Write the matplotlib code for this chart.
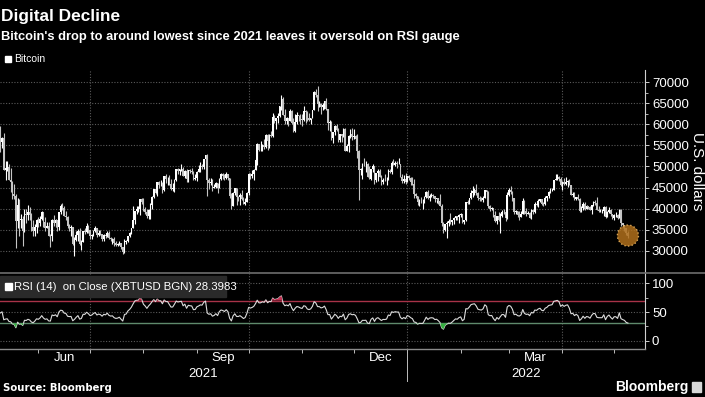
import numpy as np
import pandas as pd
import matplotlib
matplotlib.use('Agg')
import matplotlib.pyplot as plt
import matplotlib.dates as mdates
from matplotlib.patches import Rectangle

# daily bitcoin candles in $ thousands, 10 May 2021 - 9 May 2022
close = [
    55.9, 56.7, 49.2, 49.7, 49.9, 46.8, 46.4, 43.5, 42.9, 37.0, 40.8, 37.3, 37.5, 34.8, 38.7, 38.4, 39.3, 38.4, 35.7, 34.6, 35.7, 37.3,  # May
    36.7, 37.6, 39.2, 36.9, 35.5, 35.8, 33.6, 33.4, 37.3, 36.7, 37.3, 35.6, 39.1, 40.5, 40.2, 38.3, 38.1, 35.8, 35.5, 35.6, 31.7, 32.5, 33.7, 34.7, 31.6, 32.0, 34.6, 34.5, 35.9, 35.0,  # Jun
    33.5, 33.8, 34.7, 35.3, 33.7, 34.2, 33.9, 32.9, 33.8, 33.5, 34.3, 33.1, 32.7, 32.8, 31.8, 31.4, 31.5, 31.8, 30.8, 29.8, 32.1, 32.3, 33.6, 34.3, 35.4, 37.3, 39.4, 40.0, 40.0, 42.2, 41.6,  # Jul
    39.9, 39.2, 38.2, 39.7, 40.9, 42.8, 44.6, 43.8, 46.3, 45.6, 45.6, 44.4, 47.8, 47.1, 47.1, 45.9, 44.7, 44.8, 46.7, 49.3, 48.9, 49.3, 49.5, 47.7, 48.9, 47.0, 49.1, 48.9, 48.8, 47.1, 47.2,  # Aug
    48.8, 49.3, 50.0, 49.9, 51.8, 52.7, 46.9, 46.1, 46.4, 44.8, 45.2, 46.1, 44.9, 47.1, 48.1, 47.8, 47.3, 48.3, 47.3, 43.0, 40.7, 43.6, 44.9, 42.8, 42.7, 43.2, 42.2, 41.0, 41.5, 43.8,  # Sep
    48.1, 47.7, 48.2, 49.1, 51.5, 55.3, 53.8, 53.9, 55.0, 54.7, 57.5, 56.0, 57.4, 57.3, 61.7, 60.9, 61.5, 62.0, 64.3, 66.0, 62.2, 60.7, 61.4, 60.9, 63.1, 60.4, 58.5, 60.6, 62.2, 61.9, 61.3,  # Oct
    61.0, 63.2, 62.9, 61.4, 61.0, 61.5, 63.3, 67.6, 66.9, 64.9, 64.9, 64.2, 64.5, 65.5, 63.6, 60.4, 60.5, 56.8, 58.1, 59.7, 58.7, 56.3, 57.6, 57.2, 58.8, 53.7, 54.8, 57.3, 57.8, 57.0,  # Nov
    57.2, 56.5, 53.6, 49.2, 49.4, 50.6, 50.5, 50.6, 47.6, 47.1, 49.3, 50.1, 46.7, 48.4, 48.9, 47.6, 46.2, 46.8, 46.7, 46.9, 49.0, 48.6, 50.8, 50.4, 50.8, 50.6, 50.6, 47.6, 46.5, 47.1, 46.3,  # Dec
    47.7, 47.3, 46.4, 45.8, 43.4, 43.1, 41.6, 41.9, 41.8, 41.8, 42.7, 43.9, 42.6, 43.1, 43.2, 43.1, 42.3, 42.4, 41.7, 40.7, 36.5, 35.0, 36.3, 36.7, 37.0, 36.8, 37.2, 37.7, 38.2, 38.0, 38.5,  # Jan
    38.7, 36.9, 37.3, 41.5, 41.4, 42.4, 43.8, 44.1, 44.3, 43.6, 42.4, 42.2, 42.1, 42.6, 44.5, 44.0, 40.5, 40.0, 40.1, 38.4, 37.1, 38.3, 37.3, 38.3, 39.2, 39.1, 37.7, 43.2,  # Feb
    44.4, 44.0, 42.5, 39.1, 39.4, 38.4, 38.1, 38.7, 41.9, 39.4, 38.7, 38.9, 37.8, 39.7, 39.3, 41.1, 40.9, 41.8, 42.2, 41.2, 41.0, 42.4, 42.9, 44.0, 44.3, 44.5, 46.8, 47.1, 47.5, 47.1, 45.5,  # Mar
    46.3, 45.8, 46.4, 46.6, 45.5, 43.2, 43.4, 42.3, 42.8, 42.2, 39.5, 40.1, 41.1, 39.9, 40.6, 40.4, 39.7, 40.8, 41.5, 41.4, 39.7, 39.5, 39.5, 39.5, 40.4, 38.1, 39.2, 39.7, 38.6, 37.7,  # Apr
    38.5, 38.5, 37.7, 39.7, 36.6, 36.0, 35.5, 34.1, 33.6,  # May
]
high = [
    59.5, 56.9, 58.0, 51.3, 51.4, 50.6, 49.7, 46.6, 45.8, 43.5, 42.5, 42.2, 38.8, 38.3, 39.8, 39.8, 40.8, 40.3, 38.9, 37.2, 36.4, 37.5,
    37.9, 38.2, 39.4, 39.3, 37.9, 36.8, 36.8, 34.0, 37.5, 38.4, 37.6, 37.4, 39.3, 41.0, 41.3, 40.5, 39.5, 38.2, 36.4, 36.1, 35.7, 33.3, 34.8, 35.2, 35.5, 32.6, 34.6, 35.3, 36.5, 36.0,
    35.0, 33.9, 34.9, 35.9, 35.3, 35.0, 35.0, 33.9, 34.0, 34.2, 34.6, 34.6, 33.3, 33.1, 33.2, 32.2, 31.9, 32.3, 31.8, 31.0, 32.8, 32.6, 33.6, 34.5, 35.4, 40.5, 39.5, 40.6, 40.6, 42.2, 42.4,
    42.6, 40.4, 39.8, 39.9, 41.3, 43.0, 44.7, 45.3, 46.4, 46.6, 46.7, 46.2, 47.8, 48.1, 47.4, 48.0, 47.1, 46.0, 47.0, 49.3, 49.7, 49.5, 50.5, 49.8, 49.1, 49.3, 49.2, 49.3, 49.6, 48.9, 48.2,
    49.0, 50.4, 51.0, 50.5, 51.8, 52.8, 52.9, 47.3, 47.3, 47.0, 45.9, 46.3, 46.1, 47.2, 48.4, 48.4, 48.1, 48.7, 48.3, 47.3, 43.6, 44.0, 44.9, 45.0, 42.9, 43.8, 44.4, 42.7, 42.6, 44.0,
    48.4, 48.4, 49.2, 49.5, 51.9, 55.6, 55.3, 56.1, 55.4, 56.5, 57.8, 57.6, 57.6, 58.5, 62.8, 62.3, 61.6, 62.6, 64.4, 67.0, 66.6, 63.7, 61.7, 61.6, 63.7, 63.3, 61.4, 62.4, 62.9, 62.2, 62.4,
    62.4, 64.3, 63.5, 63.1, 62.6, 61.6, 63.3, 67.8, 68.5, 69.0, 65.6, 65.0, 65.0, 65.5, 66.3, 63.6, 61.0, 60.9, 58.3, 59.8, 60.0, 59.2, 57.8, 57.8, 59.2, 59.1, 55.3, 57.4, 58.9, 59.2,
    59.0, 57.4, 57.6, 53.9, 49.7, 50.9, 51.9, 51.2, 50.8, 50.0, 49.4, 50.7, 50.2, 48.4, 49.5, 49.4, 48.0, 47.3, 48.2, 47.5, 49.3, 49.5, 51.3, 51.8, 51.2, 51.2, 52.0, 50.6, 48.1, 47.9, 48.5,
    47.8, 47.9, 47.6, 47.5, 47.0, 43.7, 43.1, 42.3, 42.7, 42.2, 43.0, 44.1, 44.3, 43.4, 43.7, 43.5, 43.1, 42.6, 42.5, 43.4, 41.1, 36.8, 36.4, 37.0, 37.5, 38.9, 37.2, 38.0, 38.3, 38.3, 38.7,
    39.0, 38.8, 37.4, 41.6, 42.0, 42.6, 44.5, 45.3, 44.8, 45.8, 43.9, 42.9, 42.7, 42.9, 44.5, 44.5, 44.1, 40.9, 40.4, 40.1, 39.4, 38.3, 39.1, 38.9, 39.6, 40.0, 39.8, 43.9,
    44.9, 45.3, 44.1, 42.5, 39.6, 39.4, 39.4, 39.4, 42.4, 42.0, 40.2, 39.4, 39.3, 39.9, 39.8, 41.5, 41.4, 42.2, 42.3, 42.3, 41.5, 43.0, 43.0, 44.1, 45.0, 44.8, 46.8, 48.1, 48.1, 47.7, 47.5,
    46.6, 47.2, 47.4, 46.9, 47.1, 45.5, 43.9, 43.9, 42.8, 43.4, 42.4, 40.6, 41.5, 41.5, 40.8, 40.7, 40.6, 40.9, 41.7, 42.1, 42.8, 40.5, 39.8, 39.9, 40.6, 40.7, 39.4, 40.3, 39.9, 38.8,
    38.6, 39.1, 38.6, 40.0, 39.8, 36.6, 36.1, 35.5, 34.8,
]
low = [
    53.4, 54.4, 49.2, 46.9, 48.9, 46.7, 43.9, 42.2, 42.3, 30.7, 35.3, 33.6, 35.4, 31.1, 34.5, 36.6, 37.3, 37.2, 34.8, 33.6, 33.4, 34.2,
    35.7, 35.9, 37.2, 35.6, 34.8, 35.3, 33.4, 31.0, 32.4, 35.9, 35.7, 34.7, 34.9, 38.8, 39.6, 38.2, 37.4, 35.3, 34.8, 33.4, 31.4, 28.8, 32.3, 32.4, 31.3, 30.2, 32.0, 33.9, 34.3, 34.1,
    32.7, 32.7, 33.4, 34.4, 33.2, 33.6, 33.8, 32.2, 32.3, 33.1, 33.3, 32.7, 32.2, 31.7, 31.2, 31.1, 31.2, 31.3, 30.4, 29.3, 29.5, 31.7, 32.0, 33.3, 33.9, 35.3, 36.4, 38.8, 39.3, 38.4, 41.1,
    39.4, 38.7, 37.7, 37.6, 37.5, 39.9, 42.5, 43.4, 42.9, 44.8, 45.4, 43.8, 44.2, 46.0, 45.6, 45.6, 44.4, 44.2, 43.9, 46.6, 48.3, 48.0, 49.0, 47.7, 47.2, 46.4, 46.4, 48.4, 48.1, 46.9, 46.8,
    46.6, 48.6, 48.7, 49.5, 49.5, 50.9, 43.0, 44.6, 45.6, 44.2, 44.8, 44.8, 43.6, 44.8, 46.8, 47.1, 46.8, 47.1, 46.9, 42.6, 39.8, 40.6, 43.3, 40.9, 41.7, 40.8, 42.1, 41.0, 40.8, 41.5,
    43.3, 47.1, 47.2, 46.9, 49.1, 50.4, 53.6, 53.6, 53.7, 54.1, 54.4, 54.0, 54.3, 56.9, 56.9, 60.3, 58.9, 60.4, 61.7, 63.5, 62.1, 60.0, 60.2, 59.7, 60.7, 60.1, 58.1, 58.2, 60.2, 60.8, 60.1,
    59.6, 60.7, 60.4, 60.7, 60.8, 60.1, 61.4, 63.3, 66.4, 63.2, 64.1, 62.4, 63.3, 63.6, 63.5, 58.6, 58.5, 56.4, 55.6, 57.4, 58.5, 55.9, 55.7, 55.9, 57.0, 53.6, 53.7, 53.4, 56.8, 56.3,
    56.5, 55.9, 52.0, 42.0, 47.9, 47.1, 50.0, 48.6, 47.4, 47.1, 46.7, 48.7, 45.8, 46.3, 46.6, 47.6, 45.6, 45.9, 46.6, 45.6, 46.7, 48.4, 48.1, 50.4, 50.2, 49.6, 50.5, 47.4, 46.1, 46.1, 45.8,
    46.3, 46.7, 45.7, 45.5, 42.6, 42.5, 40.9, 40.7, 41.3, 39.8, 41.3, 42.5, 42.3, 41.8, 42.7, 42.6, 41.6, 41.3, 41.2, 40.6, 35.8, 34.1, 34.6, 33.0, 35.8, 36.4, 36.0, 36.3, 37.4, 37.3, 36.7,
    38.1, 36.6, 36.3, 37.1, 41.1, 41.1, 42.2, 42.8, 43.2, 43.2, 42.0, 41.8, 41.9, 41.6, 42.4, 43.4, 40.1, 39.5, 39.6, 38.1, 36.9, 36.4, 37.1, 34.3, 38.1, 38.6, 37.1, 37.5,
    42.9, 43.4, 41.9, 38.8, 38.7, 38.1, 37.2, 38.0, 38.6, 38.6, 38.3, 38.7, 37.7, 37.6, 38.6, 38.9, 40.5, 40.3, 41.5, 40.9, 40.6, 40.9, 41.9, 42.6, 43.7, 44.1, 44.4, 46.7, 46.9, 46.6, 45.3,
    44.3, 45.7, 45.6, 45.1, 45.5, 43.2, 42.8, 42.1, 42.1, 42.0, 39.3, 39.3, 39.6, 39.6, 39.8, 40.0, 39.6, 38.6, 40.6, 40.9, 39.8, 39.2, 39.3, 39.0, 38.2, 37.8, 37.9, 38.9, 38.2, 37.6,
    37.4, 38.1, 37.5, 37.7, 35.9, 35.3, 34.8, 33.7, 33.1,
]
# closes 1 Apr - 9 May 2021 (left of the chart), only used to seed RSI and the first open
prior_close = [59.0, 59.0, 57.1, 58.2, 59.1, 58.0, 56.0, 58.1, 58.1, 59.8, 59.8, 59.8, 63.5, 62.9, 63.2,
               61.5, 60.1, 56.3, 55.7, 56.5, 53.8, 51.7, 51.1, 50.1, 49.0, 54.0, 55.0, 54.8, 53.6, 57.8,
               57.8, 56.6, 57.2, 53.3, 57.4, 56.4, 57.4, 58.8, 58.2]

price_ticks = [30000, 35000, 40000, 45000, 50000, 55000, 60000, 65000, 70000]
rsi_ticks = [0, 50, 100]
month_labels = ['Jun', 'Sep', 'Dec', 'Mar']
month_label_dates = ['2021-06-16', '2021-09-16', '2021-12-16 12:00', '2022-03-16 12:00']
year_labels = ['2021', '2022']
quarter_lines = ['2021-07-01', '2021-10-01', '2022-01-01', '2022-04-01']
rsi_last_text = '28.3983'

BG = 'black'
GRID = '#5a5a5a'
TXT = 'white'
FONT = 'Liberation Sans'

dates = pd.date_range('2021-05-10', periods=len(close), freq='D')
x = mdates.date2num(dates.to_pydatetime())
c = np.array(close) * 1000
o = np.array([prior_close[-1]] + close[:-1]) * 1000
hi = np.maximum(np.array(high) * 1000, np.maximum(o, c))
lo = np.minimum(np.array(low) * 1000, np.minimum(o, c))

# RSI(14), Wilder smoothing
s = pd.Series(prior_close + close)
d = s.diff()
gain = d.clip(lower=0).ewm(alpha=1/14, adjust=False).mean()
loss = (-d.clip(upper=0)).ewm(alpha=1/14, adjust=False).mean()
rsi = (100 - 100 / (1 + gain / loss)).values[-len(close):]

fig = plt.figure(figsize=(7.05, 3.97), dpi=100, facecolor=BG)
W, H = 705, 397


def box(l, t, r, b):
    return [l / W, 1 - b / H, (r - l) / W, (b - t) / H]


ax = fig.add_axes(box(0, 70, 645, 272), facecolor=BG)
ax2 = fig.add_axes(box(0, 273, 645, 349), facecolor=BG, sharex=ax)

x0 = x[0] - 0.2
x1 = x[0] + 373.9
ax.set_xlim(x0, x1)
ax.set_ylim(24950, 72900)
ax2.set_ylim(-14.5, 118)

# candles
up = c >= o
ax.vlines(x[up], lo[up], hi[up], color='white', lw=0.8, zorder=3)
ax.vlines(x[~up], lo[~up], hi[~up], color='#c4c4c4', lw=0.8, zorder=3)
ax.bar(x[up], c[up] - o[up], bottom=o[up], width=0.9, color='white', zorder=4, linewidth=0)
ax.bar(x[~up], c[~up] - o[~up], bottom=o[~up], width=0.9, color='#c4c4c4', zorder=4, linewidth=0)

# highlight on the latest candle
ax.scatter([x[-1]], [c[-1]], s=230, color='#b0701c', alpha=0.85, edgecolors='#f0b860',
           linewidths=1.0, linestyle=':', zorder=5)

# RSI
ax2.axhline(70, color='#a83348', lw=1.0, zorder=2)
ax2.axhline(30, color='#5f8a6c', lw=1.0, zorder=2)
ax2.plot(x, rsi, color='#dcdcdc', lw=0.8, zorder=3)
ax2.fill_between(x, rsi, 30, where=rsi < 30, interpolate=True, color='#35b040', lw=0, zorder=3)
ax2.fill_between(x, rsi, 70, where=rsi > 70, interpolate=True, color='#c03050', lw=0, zorder=3)

for a in (ax, ax2):
    for sp in ('top', 'left', 'bottom'):
        a.spines[sp].set_visible(False)
    a.spines['right'].set_color('#d0d0d0')
    a.spines['right'].set_linewidth(0.8)
    a.yaxis.tick_right()
    a.tick_params(axis='y', colors='#d0d0d0', labelcolor=TXT, labelsize=9.5, length=3, width=0.7, pad=2)
    a.tick_params(axis='y', which='minor', colors='#d0d0d0', length=2, width=0.6)
    for q in quarter_lines:
        a.axvline(mdates.datestr2num(q), color=GRID, lw=0.8, ls=(0, (1, 1.5)), zorder=1)

ax.set_yticks(price_ticks)
ax.set_yticks([v + 2500 for v in price_ticks[:-1]], minor=True)
ax.yaxis.grid(True, color=GRID, lw=0.8, ls=(0, (1, 1.5)))
ax.set_axisbelow(True)
ax.tick_params(axis='x', bottom=False, labelbottom=False)
for t in ax.get_yticklabels():
    t.set_family(FONT)

ax2.set_yticks(rsi_ticks)
ax2.set_yticks([25, 75], minor=True)
ax2.yaxis.grid(True, color=GRID, lw=0.8, ls=(0, (1, 1.5)))
ax2.set_axisbelow(True)
for t in ax2.get_yticklabels():
    t.set_family(FONT)

# month ticks and labels
month_starts = mdates.date2num(pd.date_range('2021-06-01', '2022-05-01', freq='MS').to_pydatetime())
ax2.set_xticks(month_starts)
ax2.tick_params(axis='x', which='major', colors='#bdbdbd', length=3, width=0.7, labelbottom=False)
ax2.spines['bottom'].set_visible(True)
ax2.spines['bottom'].set_color('#8a8a8a')
ax2.spines['bottom'].set_linewidth(1.0)

for lab, dt in zip(month_labels, month_label_dates):
    ax2.text(mdates.datestr2num(dt), -0.12, lab, transform=ax2.get_xaxis_transform(),
             ha='center', va='center', color=TXT, fontsize=9.5, family=FONT)
jan = mdates.datestr2num('2022-01-01')
ax2.text((x0 + jan) / 2, -0.33, year_labels[0], transform=ax2.get_xaxis_transform(),
         ha='center', va='center', color=TXT, fontsize=9.5, family=FONT)
ax2.text((jan + x1) / 2, -0.33, year_labels[1], transform=ax2.get_xaxis_transform(),
         ha='center', va='center', color=TXT, fontsize=9.5, family=FONT)
ax2.plot([jan, jan], [0, -0.42], transform=ax2.get_xaxis_transform(), color='#bdbdbd',
         lw=0.7, clip_on=False)

# separator between panels
fig.add_artist(plt.Line2D([0, 1], [1 - 272.5 / H] * 2, color='#6e6e6e', lw=1.2))

# labels inside panels
fig.add_artist(Rectangle((5 / W, 1 - 62 / H), 6 / W, 6 / H, color='white', transform=fig.transFigure))
fig.text(14 / W, 1 - 59 / H, 'Bitcoin', color=TXT, fontsize=7.5, va='center', family=FONT)

fig.add_artist(Rectangle((0, 1 - 297 / H), 226 / W, 21 / H, color='#2a2a2a', transform=fig.transFigure, zorder=5))
fig.add_artist(Rectangle((5 / W, 1 - 290 / H), 7 / W, 7 / H, color='white', transform=fig.transFigure, zorder=6))
fig.text(14 / W, 1 - 286.5 / H, 'RSI (14)  on Close (XBTUSD BGN) ' + rsi_last_text, color=TXT,
         fontsize=8.2, va='center', family=FONT, zorder=6)

fig.text(697 / W, 1 - 171 / H, 'U.S. dollars', color=TXT, fontsize=11, rotation=-90,
         ha='center', va='center', family=FONT)

# title block
fig.text(1 / W, 1 - 16 / H, 'Digital Decline', color=TXT, fontsize=12.4, fontweight='bold',
         va='center', family=FONT)
fig.text(1 / W, 1 - 37 / H, "Bitcoin's drop to around lowest since 2021 leaves it oversold on RSI gauge",
         color=TXT, fontsize=9.3, fontweight='bold', va='center', family=FONT)

# footer
fig.text(3 / W, 1 - 388 / H, 'Source: Bloomberg', color=TXT, fontsize=7.3, fontweight='bold',
         va='center', family='DejaVu Sans')
fig.text(688 / W, 1 - 387 / H, 'Bloomberg', color=TXT, fontsize=10, fontweight='bold',
         va='center', ha='right', family=FONT)
fig.add_artist(Rectangle((692 / W, 1 - 392 / H), 9 / W, 10 / H, color='#d8d8d8', transform=fig.transFigure))

fig.savefig('out.png', dpi=100, facecolor=BG)
